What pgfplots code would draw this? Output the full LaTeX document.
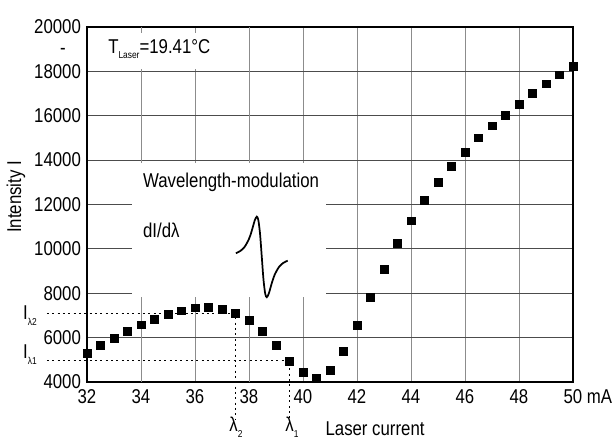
\documentclass[border=0pt]{standalone}
\usepackage{pgfplots}
\pgfplotsset{compat=1.18}
\usepackage{fontspec}
\setmainfont{Liberation Sans}[FakeStretch=0.84]
\newcommand\lbl{\fontsize{15}{17}\selectfont}
\newcommand\sub[1]{\raisebox{-0.55ex}{\fontsize{7.5}{8}\selectfont #1}}

\pgfplotstableread{
x y
32 5290
32.5 5640
33 5970
33.5 6270
34 6580
34.5 6830
35 7050
35.5 7210
36 7350
36.5 7380
37 7290
37.5 7110
38 6790
38.5 6280
39 5650
39.5 4950
40 4440
40.5 4190
41 4540
41.5 5380
42 6550
42.5 7830
43 9080
43.5 10260
44 11270
44.5 12190
45 13000
45.5 13720
46 14350
46.5 15000
47 15550
47.5 16030
48 16520
48.5 17020
49 17440
49.5 17850
50 18230
}\measured

\begin{document}
\begin{tikzpicture}
\begin{axis}[
    scale only axis,
    width=364.5pt, height=266.25pt,
    xmin=32, xmax=50, ymin=4000, ymax=20000,
    xtick={32,34,...,50},
    xticklabels={32,34,36,38,40,42,44,46,48,{50\rlap{ mA}}},
    ytick={4000,6000,...,20000},
    scaled y ticks=false,
    major tick length=0pt,
    /pgf/number format/1000 sep={},
    /pgf/number format/assume math mode=true,
    tick label style={font=\lbl},
    xticklabel style={yshift=-2pt},
    yticklabel style={xshift=-1pt},
    grid=major,
    x grid style={black!45, line width=0.6pt},
    y grid style={black!70, line width=0.6pt},
    extra x ticks={34,38},
    extra x tick labels={},
    extra x tick style={grid style={black, line width=0.6pt}},
    axis line style={black, line width=1.2pt},
    clip=false,
]
% white panel that hides the grid behind the inset
\fill[white] (axis cs:33.67,7830) rectangle (axis cs:40.85,13870);
\fill[white] (axis cs:32.3,18100) rectangle (axis cs:36.74,19730);

\addplot[only marks, mark=square*, mark size=2.9pt, black] table[x=x, y=y] {\measured};

% derivative sketch
\addplot[smooth, black, line width=1.3pt] coordinates {
(37.515,9803) (37.675,9901) (37.835,10082) (37.995,10429) (38.091,10761)
(38.155,11033) (38.219,11298) (38.290,11450) (38.347,11297) (38.411,10669)
(38.475,9635) (38.539,8601) (38.603,7973) (38.660,7820) (38.731,7972)
(38.795,8237) (38.859,8509) (38.955,8841) (39.115,9188) (39.275,9369) (39.435,9467)};

% guide lines
\addplot[black, line width=1pt, dash pattern=on 1.5pt off 2.5pt] coordinates {(30.52,7080) (37.5,7080) (37.5,2288)};
\addplot[black, line width=1pt, dash pattern=on 1.5pt off 2.5pt] coordinates {(30.52,4980) (39.5,4980) (39.5,2288)};

\node[anchor=west, font=\lbl, inner sep=0pt] at (axis cs:32.78,19000) {T\sub{Laser}=19.41°C};
\node[anchor=west, font=\lbl, inner sep=0pt] at (axis cs:34.07,13013) {Wavelength-modulation};
\node[anchor=west, font=\lbl, inner sep=0pt] at (axis cs:34.07,10850) {dI/dλ};
\node[anchor=east, font=\lbl, inner sep=0pt] at (axis cs:30.15,7000) {I\sub{λ2}};
\node[anchor=east, font=\lbl, inner sep=0pt] at (axis cs:30.15,5240) {I\sub{λ1}};
\node[font=\lbl, inner sep=0pt] at (axis cs:37.52,1960) {λ\sub{2}};
\node[font=\lbl, inner sep=0pt] at (axis cs:39.59,1960) {λ\sub{1}};
\node[font=\lbl, inner sep=0pt] at (axis cs:42.67,1880) {Laser current};
\node[font=\lbl, inner sep=0pt, rotate=90] at (axis cs:29.37,12340) {Intensity I};
\node[font=\lbl, inner sep=0pt] at (axis cs:31.11,18900) {-};

\coordinate (bl) at (axis cs:28.78,1386);
\coordinate (tr) at (axis cs:51.556,21215);
\end{axis}
\pgfresetboundingbox
\path[use as bounding box] (bl) rectangle (tr);
\end{tikzpicture}
\end{document}
